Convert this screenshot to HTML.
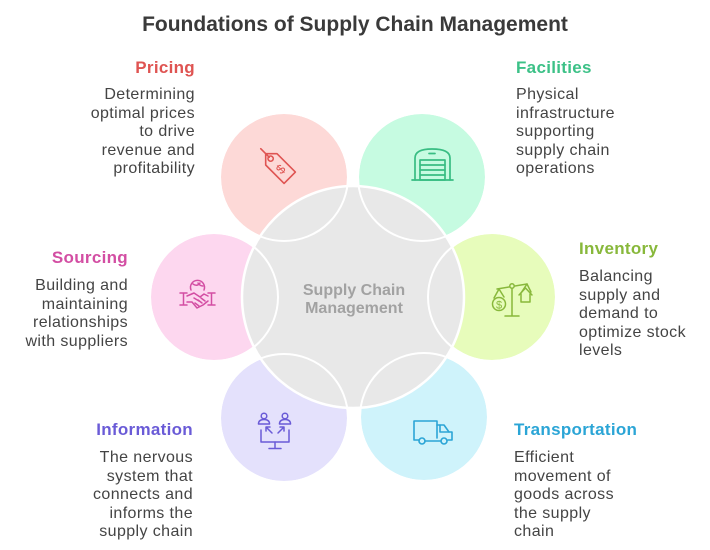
<!DOCTYPE html>
<html>
<head>
<meta charset="utf-8">
<style>
  html,body{margin:0;padding:0;background:#fff;}
  body{width:710px;height:550px;position:relative;overflow:hidden;font-family:"Liberation Sans",sans-serif;}
  svg{position:absolute;left:0;top:0;}
  .t{position:absolute;font-weight:bold;font-size:17px;line-height:20px;letter-spacing:0.3px;white-space:nowrap;}
  .d{position:absolute;font-size:16px;line-height:18.6px;letter-spacing:0.4px;color:#444;white-space:nowrap;}
  .r{text-align:right;}
  .title{position:absolute;left:0;width:710px;top:12px;text-align:center;font-weight:bold;font-size:21px;line-height:26px;color:#3a3a3a;}
  .ctr{position:absolute;left:254px;width:200px;text-align:center;font-weight:bold;font-size:16px;line-height:18px;color:#a2a2a2;}
</style>
</head>
<body>
<svg width="710" height="550" viewBox="0 0 710 550">
  <!-- outer fills -->
  <circle cx="284" cy="177" r="64" fill="#fdd9d7" stroke="#fff" stroke-width="2"/>
  <circle cx="422" cy="177" r="64" fill="#c6fbe1" stroke="#fff" stroke-width="2"/>
  <circle cx="492" cy="297" r="64" fill="#e7fcbb" stroke="#fff" stroke-width="2"/>
  <circle cx="424" cy="417" r="64" fill="#cff3fb" stroke="#fff" stroke-width="2"/>
  <circle cx="284" cy="418" r="64" fill="#e4e1fc" stroke="#fff" stroke-width="2"/>
  <circle cx="214" cy="297" r="64" fill="#fdd7ef" stroke="#fff" stroke-width="2"/>
  <!-- center -->
  <circle cx="353" cy="297" r="111" fill="#e8e8e8" stroke="#fff" stroke-width="2.5"/>
  <!-- outer strokes over center -->
  <g fill="none" stroke="#fff" stroke-width="2">
    <circle cx="284" cy="177" r="64"/>
    <circle cx="422" cy="177" r="64"/>
    <circle cx="492" cy="297" r="64"/>
    <circle cx="424" cy="417" r="64"/>
    <circle cx="284" cy="418" r="64"/>
    <circle cx="214" cy="297" r="64"/>
  </g>

  <!-- Pricing tag icon -->
  <g transform="translate(277,165) rotate(45)" fill="none" stroke="#df5452" stroke-width="1.6" stroke-linejoin="round" stroke-linecap="round">
    <path d="M-16,0 L-8,-8 H18 V8 H-8 Z"/>
    <circle cx="-9" cy="0" r="2.6"/>
    <path d="M-11,0 L-23,0"/>
    <text x="5" y="5" font-family="Liberation Sans, sans-serif" font-size="13" fill="#df5452" stroke="none" transform="rotate(-90 5 0) translate(-4,0)">$</text>
  </g>

  <!-- Facilities garage icon -->
  <g fill="none" stroke="#38bd83" stroke-width="1.7" stroke-linecap="round" stroke-linejoin="round">
    <path d="M415,180 V158 Q415,149 432,149 Q450,149 450,158 V180"/>
    <path d="M412,180 H453"/>
    <path d="M429,153.5 H435"/>
    <rect x="420" y="160" width="25" height="20"/>
    <path d="M420,165 H445 M420,170 H445 M420,175 H445"/>
  </g>

  <!-- Sourcing handshake icon -->
  <g fill="none" stroke="#d34ea3" stroke-width="1.5" stroke-linecap="round" stroke-linejoin="round">
    <path d="M191,290 A7,7 0 1 1 204,290"/>
    <path d="M193,284 Q197,287 200,283 M198,283 Q200,286 203,286"/>
    <path d="M180,293 H187 M183.5,293 V305 M180,305 H187"/>
    <path d="M208,293 H215 M211.5,293 V305 M208,305 H215"/>
    <path d="M187,296 L194,293 L200,297 L204,294 L208,296"/>
    <path d="M194,298 L199,301"/>
    <path d="M187,302 L192,302 L197,308 L203,305 L208,301"/>
    <path d="M195,303 L199,306 M198,300 L202,303 M201,298 L205,301"/>
  </g>

  <!-- Inventory scale icon -->
  <g fill="none" stroke="#88b83b" stroke-width="1.5" stroke-linecap="round" stroke-linejoin="round">
    <path d="M512,287 V316 M505,316 H519"/>
    <path d="M497,289 L527,284"/>
    <circle cx="512" cy="286" r="2.2" fill="#e7fcbb"/>
    <path d="M499,289 L494,298 M499,289 L504,297"/>
    <circle cx="499" cy="304" r="6.5"/>
    <text x="499" y="308.5" text-anchor="middle" font-family="Liberation Sans, sans-serif" font-size="11" fill="#88b83b" stroke="none">$</text>
    <path d="M527,284 L521,293 M527,284 L531,292"/>
    <path d="M519,295 L525.5,288 L532,295"/>
    <path d="M521,294 V302 H530 V294"/>
  </g>

  <!-- Information icon -->
  <g fill="none" stroke="#6a5bd7" stroke-width="1.5" stroke-linecap="round" stroke-linejoin="round">
    <circle cx="264" cy="416" r="2.8"/>
    <path d="M258.5,424 Q258.5,419.5 264,419.5 Q269.5,419.5 269.5,424 Z"/>
    <circle cx="285" cy="416" r="2.8"/>
    <path d="M279.5,424 Q279.5,419.5 285,419.5 Q290.5,419.5 290.5,424 Z"/>
    <path d="M272,433 L266,427 M266,427 H270 M266,427 V431"/>
    <path d="M278,433 L284,427 M284,427 H280 M284,427 V431"/>
    <path d="M261,430 V442 H289 V430"/>
    <path d="M275,442 V448 M269,448.5 H281"/>
  </g>

  <!-- Transportation truck icon -->
  <g fill="none" stroke="#2ba5d6" stroke-width="1.6" stroke-linecap="round" stroke-linejoin="round">
    <path d="M419,440 H414 V421 H437 V438"/>
    <path d="M437,425 H444 L449,432 H452 V440 H448"/>
    <path d="M440,425 V432 H449"/>
    <circle cx="422" cy="441" r="3"/>
    <circle cx="444" cy="441" r="3"/>
    <path d="M425,441 H441"/>
  </g>
</svg>

<div class="title">Foundations of Supply Chain Management</div>

<div class="ctr" style="top:282px;">Supply Chain</div>
<div class="ctr" style="top:300px;">Management</div>

<!-- Pricing -->
<div class="t r" style="right:515px;top:58px;color:#df5452;">Pricing</div>
<div class="d r" style="right:515px;top:86px;">Determining<br>optimal prices<br>to drive<br>revenue and<br>profitability</div>

<!-- Facilities -->
<div class="t" style="left:516px;top:58px;color:#3cc187;">Facilities</div>
<div class="d" style="left:516px;top:86px;">Physical<br>infrastructure<br>supporting<br>supply chain<br>operations</div>

<!-- Sourcing -->
<div class="t r" style="right:582px;top:248px;color:#d34ea3;">Sourcing</div>
<div class="d r" style="right:582px;top:277px;">Building and<br>maintaining<br>relationships<br>with suppliers</div>

<!-- Inventory -->
<div class="t" style="left:579px;top:239px;color:#88b83b;">Inventory</div>
<div class="d" style="left:579px;top:268px;">Balancing<br>supply and<br>demand to<br>optimize stock<br>levels</div>

<!-- Information -->
<div class="t r" style="right:517px;top:420px;color:#6a5bd7;">Information</div>
<div class="d r" style="right:517px;top:449px;">The nervous<br>system that<br>connects and<br>informs the<br>supply chain</div>

<!-- Transportation -->
<div class="t" style="left:514px;top:420px;color:#2ba5d6;">Transportation</div>
<div class="d" style="left:514px;top:449px;">Efficient<br>movement of<br>goods across<br>the supply<br>chain</div>
</body>
</html>
